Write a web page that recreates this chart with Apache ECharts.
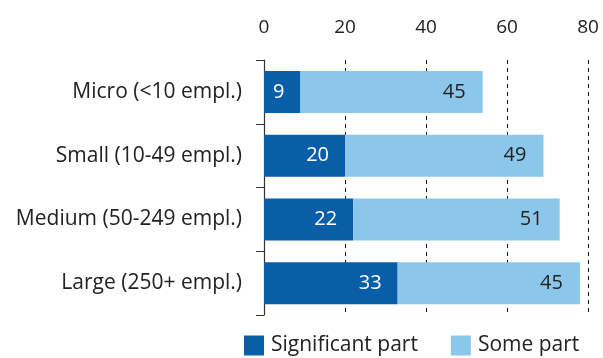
<!DOCTYPE html>
<html>
<head>
<meta charset="utf-8">
<script src="https://cdn.jsdelivr.net/npm/echarts@6/dist/echarts.min.js"></script>
<style>
  html, body { margin: 0; padding: 0; background: #fff; }
  #chart { width: 603px; height: 358px; }
</style>
</head>
<body>
<div id="chart"></div>
<script>
// Share of firms by size class
const categories = ['Micro (<10 empl.)', 'Small (10-49 empl.)', 'Medium (50-249 empl.)', 'Large (250+ empl.)'];
const significantPart = [9, 20, 22, 33];
const somePart = [45, 49, 51, 45];
const seriesNames = ['Significant part', 'Some part'];
const xTicks = [0, 20, 40, 60, 80];

const FONT = '"Open Sans", sans-serif';
const chart = echarts.init(document.getElementById('chart'), null, { renderer: 'canvas' });

chart.setOption({
  animation: false,
  textStyle: { fontFamily: FONT },
  grid: { left: 264, right: 15, top: 60, bottom: 43 },
  legend: {
    top: 330,
    left: 239,
    itemWidth: 20,
    itemHeight: 20,
    itemGap: 33,
    icon: 'rect',
    textStyle: { fontSize: 21, color: '#222', fontFamily: FONT, padding: [0, 0, 0, 2] },
    data: seriesNames
  },
  xAxis: {
    type: 'value',
    position: 'top',
    min: xTicks[0],
    max: xTicks[xTicks.length - 1],
    interval: 20,
    axisLine: { show: false },
    axisTick: { show: false },
    axisLabel: { fontSize: 19, color: '#222', margin: 23, fontFamily: FONT },
    splitLine: { show: true, lineStyle: { color: '#111', type: [4, 4], width: 1 } }
  },
  yAxis: {
    type: 'category',
    inverse: true,
    data: categories,
    axisLine: { show: true, lineStyle: { color: '#333', width: 1.2 } },
    axisTick: { show: true, length: 8, lineStyle: { color: '#333' } },
    axisLabel: { fontSize: 21, color: '#222', margin: 22, fontFamily: FONT }
  },
  series: [
    {
      name: seriesNames[0],
      type: 'bar',
      stack: 'total',
      barWidth: 42,
      data: significantPart,
      itemStyle: { color: '#0a5ea8' },
      label: { show: true, position: 'insideRight', distance: 16, color: '#fff', fontSize: 20, fontFamily: FONT }
    },
    {
      name: seriesNames[1],
      type: 'bar',
      stack: 'total',
      barWidth: 42,
      data: somePart,
      itemStyle: { color: '#8ac7ea' },
      label: { show: true, position: 'insideRight', distance: 17, color: '#222', fontSize: 20, fontFamily: FONT }
    }
  ]
});
</script>
</body>
</html>
